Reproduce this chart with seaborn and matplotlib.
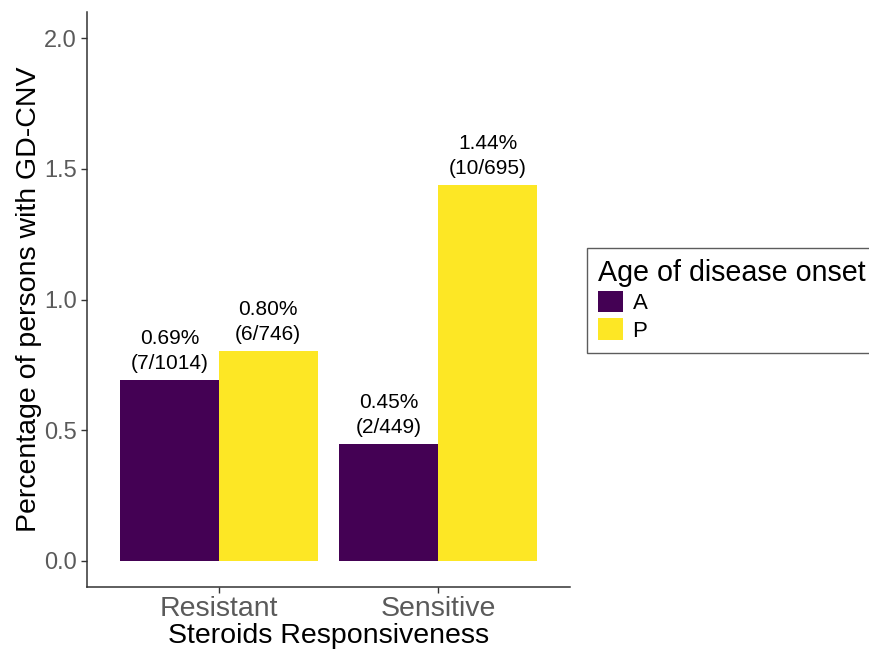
import matplotlib
matplotlib.use("Agg")
import matplotlib.pyplot as plt
import seaborn as sns
import pandas as pd

# GD-CNV carriers by steroid response and age of disease onset
responsiveness = ["Resistant", "Resistant", "Sensitive", "Sensitive"]
onset = ["A", "P", "A", "P"]
carriers = [7, 6, 2, 10]
totals = [1014, 746, 449, 695]

categories = ["Resistant", "Sensitive"]
onset_levels = ["A", "P"]
palette = {"A": "#440154", "P": "#FDE725"}

df = pd.DataFrame({
    "responsiveness": responsiveness,
    "onset": onset,
    "carriers": carriers,
    "total": totals,
})
df["pct"] = df["carriers"] / df["total"] * 100

sns.set_theme(style="white")
plt.rcParams["font.family"] = ["Liberation Sans", "DejaVu Sans"]
plt.rcParams["text.color"] = "black"

fig = plt.figure(figsize=(8.7, 6.5), dpi=100)
ax = fig.add_axes([87 / 870, 1 - 587 / 650, (570 - 87) / 870, (587 - 12) / 650])

sns.barplot(
    data=df, x="responsiveness", y="pct", hue="onset",
    order=categories, hue_order=onset_levels, palette=palette,
    width=0.9, linewidth=0, saturation=1, errorbar=None, ax=ax,
)

# value labels above each bar
for level, container in zip(onset_levels, ax.containers):
    sub = df[df["onset"] == level].set_index("responsiveness").loc[categories]
    labels = [f"{p:.2f}%\n({c}/{t})" for p, c, t in zip(sub["pct"], sub["carriers"], sub["total"])]
    ax.bar_label(container, labels=labels, padding=5, fontsize=15,
                 linespacing=1.4, color="black")

ax.set_xlim(-0.6, 1.6)
ax.set_ylim(-0.1, 2.1)
ax.set_yticks([0.0, 0.5, 1.0, 1.5, 2.0])
ax.set_yticklabels(["0.0", "0.5", "1.0", "1.5", "2.0"])

for side in ["top", "right"]:
    ax.spines[side].set_visible(False)
for side in ["left", "bottom"]:
    ax.spines[side].set_color("#333333")
    ax.spines[side].set_linewidth(1.1)

ax.tick_params(axis="both", which="both", direction="out", length=4.5,
               width=1.0, color="#333333", left=True, bottom=True)
ax.tick_params(axis="y", labelsize=17, labelcolor="#5a5a5a", pad=3)
ax.tick_params(axis="x", labelsize=20.5, labelcolor="#5a5a5a", pad=2)

ax.set_xlabel("Steroids Responsiveness", fontsize=20.5, color="black", labelpad=1)
ax.set_ylabel("Percentage of persons with GD-CNV", fontsize=20.5, color="black", labelpad=1.5)

handles, labels = ax.get_legend_handles_labels()
ax.get_legend().remove()
leg = fig.legend(
    handles, labels, title="Age of disease onset",
    loc="upper left", bbox_to_anchor=(587 / 870, 1 - 248 / 650),
    fontsize=16, title_fontsize=20.6, frameon=True, fancybox=False,
    handlelength=1.1, handleheight=1.1, handletextpad=0.45,
    labelspacing=0.18, borderpad=0.5, borderaxespad=0,
    alignment="left", labelcolor="black",
)
leg.get_title().set_color("black")
leg.get_frame().set_edgecolor("#333333")
leg.get_frame().set_linewidth(1.0)

fig.savefig("out.png", dpi=100)
